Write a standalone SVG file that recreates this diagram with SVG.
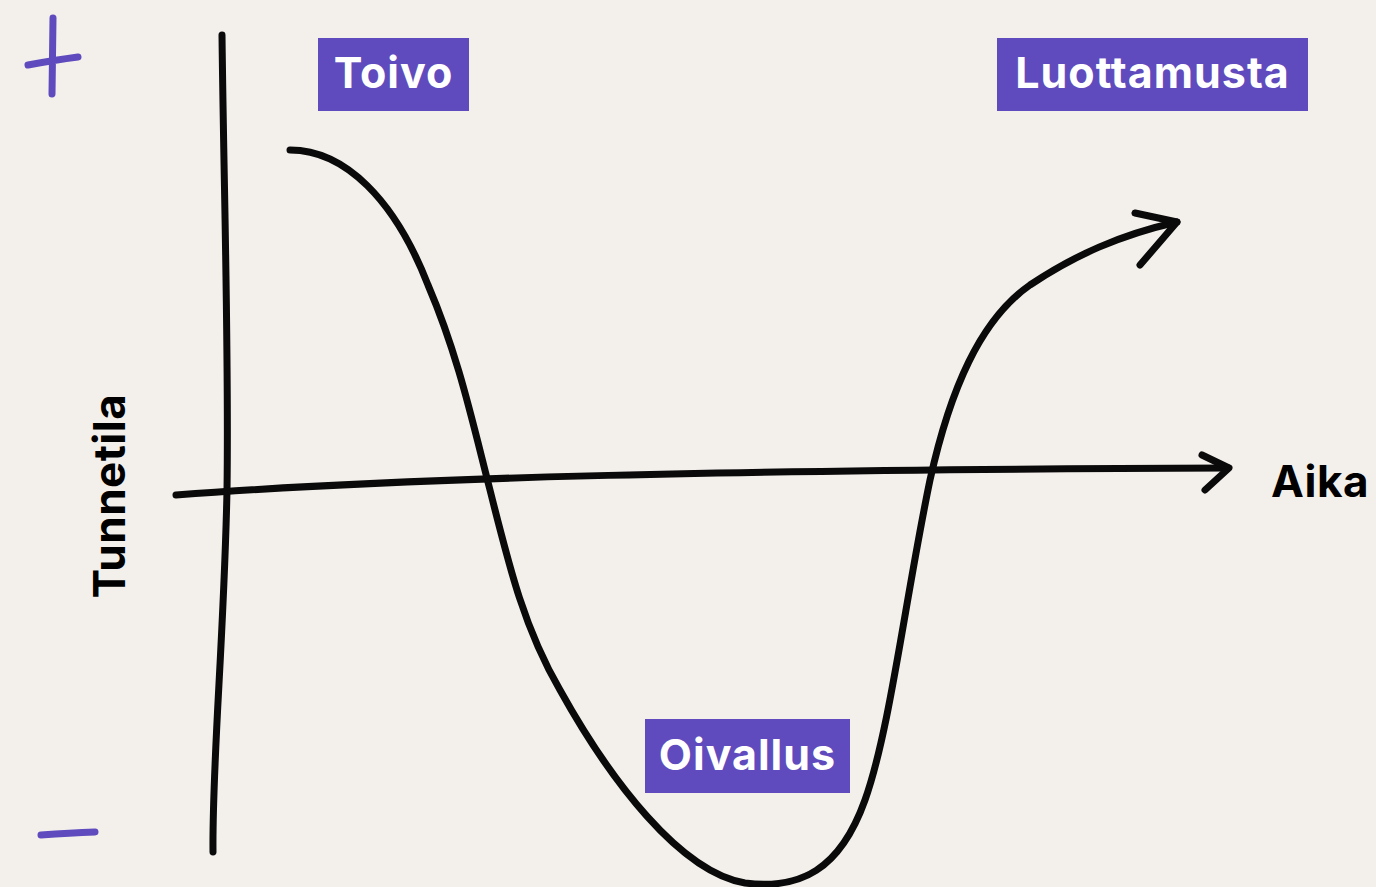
<svg xmlns="http://www.w3.org/2000/svg" width="1376" height="887" viewBox="0 0 1376 887">
<style>
.ink{fill:none;stroke:#0a0a0a;stroke-width:7;stroke-linecap:round;stroke-linejoin:round}
.pen{fill:none;stroke:#5f4bbd;stroke-width:7;stroke-linecap:round}
.box{fill:#5f4bbd}
.lbl{fill:#ffffff;font-family:Inter,"Noto Sans","Liberation Sans",sans-serif;font-weight:700;font-size:43px;letter-spacing:1px}
.ax{fill:#000000;font-family:Inter,"Noto Sans","Liberation Sans",sans-serif;font-weight:700;font-size:44px;letter-spacing:0.5px}
</style>
<rect width="1376" height="887" fill="#f3f0ec"/>
<g id="signs">
<path class="pen" d="M53,18 L52,94 M28,65 Q55,60 78,57"/>
<path class="pen" d="M41,835 Q70,833 95,832"/>
</g>
<g id="connectors">
<path class="ink" d="M222,35 C224,200 229,350 227,490 C224,640 212,760 213,852"/>
<path class="ink" d="M176,495 C400,478 700,470 1228,468"/>
<path class="ink" d="M1202,455 L1229,468 L1205,490"/>
<path class="ink" d="M290,150 C345,150 395,200 428,285 C458,355 472,420 490,490 C510,570 525,630 560,690 C610,780 680,872 745,883 C800,890 840,870 865,800 C890,730 905,600 930,480 C950,390 980,320 1030,285 C1075,255 1120,235 1177,222"/>
<path class="ink" d="M1135,213 L1177,222 L1140,265"/>
</g>
<g id="toivo">
<rect class="box" x="318" y="38" width="151" height="73"/>
<text class="lbl" x="393.5" y="88" text-anchor="middle">Toivo</text>
</g>
<g id="luottamusta">
<rect class="box" x="997" y="38" width="311" height="73"/>
<text class="lbl" x="1152.5" y="88" text-anchor="middle">Luottamusta</text>
</g>
<g id="oivallus">
<rect class="box" x="645" y="719" width="205" height="74"/>
<text class="lbl" x="747.5" y="770" text-anchor="middle">Oivallus</text>
</g>
<g id="aika">
<text class="ax" x="1271" y="497">Aika</text>
</g>
<g id="tunnetila">
<text class="ax" transform="translate(125,496) rotate(-90)" text-anchor="middle">Tunnetila</text>
</g>
</svg>
